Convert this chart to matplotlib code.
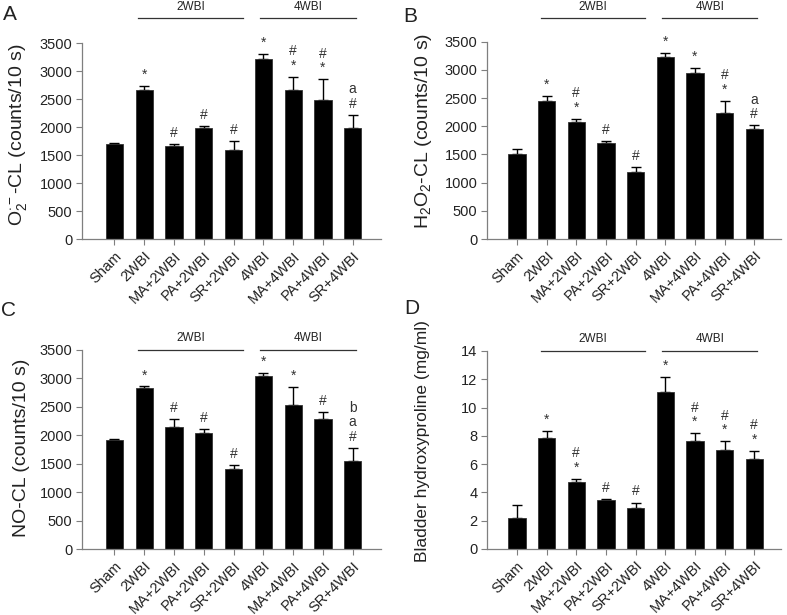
import numpy as np
import matplotlib
matplotlib.use("Agg")
import matplotlib.pyplot as plt
import matplotlib.transforms as mtransforms

plt.rcParams["font.family"] = ["Liberation Sans", "DejaVu Sans"]
plt.rcParams["mathtext.fontset"] = "custom"
plt.rcParams["mathtext.rm"] = "Liberation Sans"
plt.rcParams["mathtext.it"] = "Liberation Sans"

groups = ["Sham", "2WBI", "MA+2WBI", "PA+2WBI", "SR+2WBI",
          "4WBI", "MA+4WBI", "PA+4WBI", "SR+4WBI"]

o2_mean = [1700, 2660, 1665, 1990, 1600, 3220, 2670, 2495, 1990]
o2_err = [20, 75, 40, 25, 150, 90, 230, 360, 230]
o2_marks = ["", "*", "#", "#", "#", "*", "#\n*", "#\n*", "a\n#"]

h2o2_mean = [1505, 2445, 2070, 1710, 1195, 3235, 2940, 2240, 1960]
h2o2_err = [95, 90, 60, 25, 75, 60, 100, 205, 55]
h2o2_marks = ["", "*", "#\n*", "#", "#", "*", "*", "#\n*", "a\n#"]

no_mean = [1915, 2835, 2150, 2040, 1405, 3045, 2535, 2285, 1545]
no_err = [25, 20, 135, 65, 75, 40, 315, 120, 230]
no_marks = ["", "*", "#", "#", "#", "*", "*", "#", "b\na\n#"]

hyp_mean = [2.2, 7.87, 4.71, 3.46, 2.9, 11.08, 7.64, 7.02, 6.34]
hyp_err = [0.9, 0.5, 0.24, 0.07, 0.38, 1.1, 0.54, 0.6, 0.6]
hyp_marks = ["", "*", "#\n*", "#", "#", "*", "#\n*", "#\n*", "#\n*"]

cl_ticks = [0, 500, 1000, 1500, 2000, 2500, 3000, 3500]
hyp_ticks = [0, 2, 4, 6, 8, 10, 12, 14]

W, H = 787, 615
fig = plt.figure(figsize=(W / 100, H / 100), dpi=100)
AXC = "#7f7f7f"
TXT = "#222222"


def px_axes(x0, x1, ytop, ybot):
    return fig.add_axes([x0 / W, 1 - ybot / H, (x1 - x0) / W, (ybot - ytop) / H])


def panel(ax, mean, err, marks, ticks, xlim, group_y):
    x = np.arange(len(groups))
    ax.bar(x, mean, width=0.58, color="black", edgecolor="#333333", lw=0.6, zorder=2)
    ax.errorbar(x, mean, yerr=[np.zeros(len(err)), err], fmt="none",
                ecolor="black", elinewidth=1.0, capsize=3.5, capthick=1.0, zorder=1)
    ax.set_xlim(*xlim)
    ax.set_ylim(ticks[0], ticks[-1])
    ax.set_yticks(ticks)
    ax.set_xticks(x)
    ax.set_xticklabels(groups, rotation=45, ha="right", rotation_mode="anchor",
                       fontsize=10.5, color=TXT)
    ax.tick_params(axis="y", labelsize=10.5, labelcolor=TXT, color=AXC,
                   length=4, width=0.8, pad=3)
    ax.tick_params(axis="x", color=AXC, length=4, width=0.8, pad=3)
    for s in ["top", "right"]:
        ax.spines[s].set_visible(False)
    for s in ["left", "bottom"]:
        ax.spines[s].set_color(AXC)
        ax.spines[s].set_linewidth(0.9)
    for xi, m, e, t in zip(x, mean, err, marks):
        if t:
            ax.annotate(t, (xi, m + e), xytext=(0, 3), textcoords="offset points",
                        ha="center", va="bottom", fontsize=10, color="#333333",
                        linespacing=1.05)
    # group brackets above the bars
    tr = mtransforms.blended_transform_factory(ax.transData, ax.transAxes)
    for (a, b), lab in [((0.8, 4.3), "2WBI"), ((4.9, 8.1), "4WBI")]:
        ax.plot([a, b], [group_y, group_y], color="#333333", lw=0.9,
                transform=tr, clip_on=False)
        ax.annotate(lab, ((a + b) / 2, group_y), xycoords=tr, xytext=(0, 4),
                    textcoords="offset points", ha="center", va="bottom",
                    fontsize=8.5, color=TXT)


axA = px_axes(82, 381, 43.3, 239.3)
panel(axA, o2_mean, o2_err, o2_marks, cl_ticks, (-1.09, 8.95), (239.3 - 18.3) / 196.0)
axB = px_axes(487, 781, 41.7, 239)
panel(axB, h2o2_mean, h2o2_err, h2o2_marks, cl_ticks, (-1.01, 8.9), (239 - 18.3) / 197.3)
axC = px_axes(82, 381, 349.7, 549.3)
panel(axC, no_mean, no_err, no_marks, cl_ticks, (-1.09, 8.95), 1.0)
axD = px_axes(487, 781, 351, 549)
panel(axD, hyp_mean, hyp_err, hyp_marks, hyp_ticks, (-1.01, 8.9), 1.0)

ylabels = [
    (18, 135, r"O$_2^{\cdot -}$-CL (counts/10 s)", 14),
    (423, 131, r"H$_2$O$_2$-CL (counts/10 s)", 14),
    (22, 448, "NO-CL (counts/10 s)", 14),
    (422, 441, "Bladder hydroxyproline (mg/ml)", 12.5),
]
for xp, yp, lab, fs in ylabels:
    fig.text(xp / W, 1 - yp / H, lab, rotation=90, ha="center", va="center",
             fontsize=fs, color=TXT)

for xp, yp, lab in [(10, 15, "A"), (410, 16, "B"), (9, 310, "C"), (412, 308, "D")]:
    fig.text(xp / W, 1 - yp / H, lab, ha="center", va="center", fontsize=15, color=TXT)

fig.savefig("out.png", dpi=100)
